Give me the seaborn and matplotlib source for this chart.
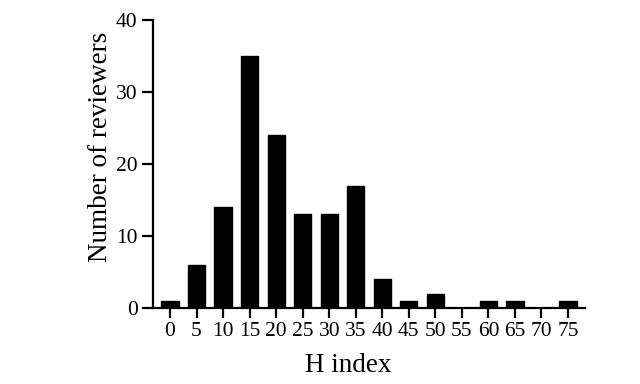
import matplotlib
matplotlib.use("Agg")
import matplotlib.pyplot as plt
import seaborn as sns
import pandas as pd

h_index = ["0", "5", "10", "15", "20", "25", "30", "35", "40", "45", "50", "55", "60", "65", "70", "75"]
reviewers = [1, 6, 14, 35, 24, 13, 13, 17, 4, 1, 2, 0, 1, 1, 0, 1]
y_ticks = [0, 10, 20, 30, 40]

sns.set_style("ticks")
plt.rcParams['font.family'] = ['Liberation Serif', 'DejaVu Serif']
plt.rcParams['text.color'] = 'black'
plt.rcParams['axes.labelcolor'] = 'black'

df = pd.DataFrame({"H index": h_index, "Number of reviewers": reviewers})

fig = plt.figure(figsize=(6.4, 3.84), dpi=100)
ax = fig.add_axes([153/640, 1 - 308/384, (585 - 153)/640, (308 - 20)/384])
sns.barplot(data=df, x="H index", y="Number of reviewers", order=h_index,
            color="black", width=0.65, saturation=1, ax=ax, edgecolor="black")

ax.set_xlim(-0.64, 15.64)
ax.set_ylim(0, 40)
ax.set_yticks(y_ticks)
ax.set_yticklabels([str(v) for v in y_ticks])
sns.despine(ax=ax)
for s in ["left", "bottom"]:
    ax.spines[s].set_linewidth(1.6)
    ax.spines[s].set_color("black")
ax.tick_params(axis="both", width=1.6, length=7, colors="black", labelcolor="black",
               labelsize=15.5, pad=3)
ax.tick_params(axis="y", length=8, pad=3)
ax.set_xlabel("H index", fontsize=19.5, color="black")
ax.set_ylabel("Number of reviewers", fontsize=19.5, color="black")
ax.xaxis.set_label_coords(0.451, -0.155)
ax.yaxis.set_label_coords(-0.093, 0.559)

fig.savefig("out.png", dpi=100)
